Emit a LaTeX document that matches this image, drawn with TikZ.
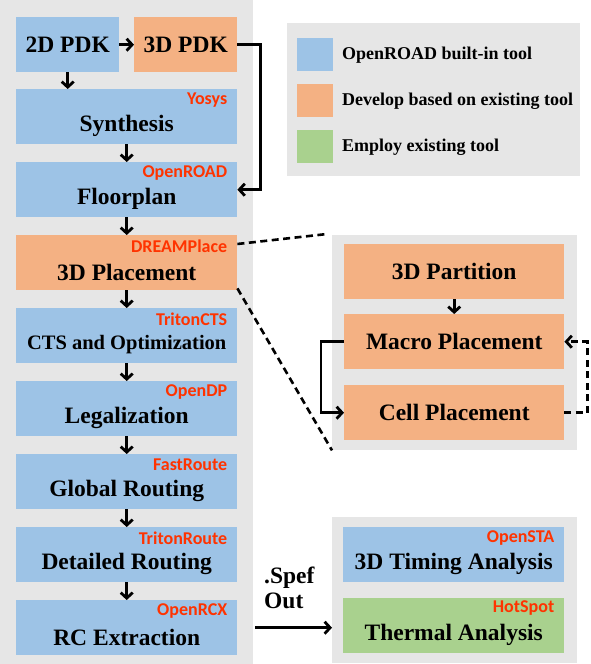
\documentclass[tikz,border=0pt]{standalone}
\usepackage{fontspec}
\setmainfont{Liberation Serif}
\newfontfamily\toolfont{Carlito}
\usetikzlibrary{arrows.meta,calc}
\definecolor{cblue}{HTML}{9DC3E6}
\definecolor{corange}{HTML}{F4B183}
\definecolor{cgreen}{HTML}{A9D18E}
\definecolor{cgray}{HTML}{E6E6E6}
\definecolor{cred}{HTML}{FF3300}
\tikzset{
  panel/.style={fill=cgray,draw=none,inner sep=0pt,anchor=north west},
  box/.style={draw=none,inner sep=0pt,anchor=north west,minimum width=221pt,minimum height=55pt},
  bluebox/.style={box,fill=cblue},
  orangebox/.style={box,fill=corange},
  greenbox/.style={box,fill=cgreen},
  lbl/.style={inner sep=0pt,font=\bfseries\fontsize{23.5}{25}\selectfont},
  tool/.style={inner sep=0pt,anchor=east,text=cred,font=\toolfont\bfseries\fontsize{18}{20}\selectfont},
  leg/.style={inner sep=0pt,anchor=west,font=\bfseries\fontsize{18}{20}\selectfont},
  arr/.style={line width=2.8pt,-{Straight Barb[length=5.5pt,width=12pt,line width=2.8pt]}},
  dline/.style={line width=2.6pt,dash pattern=on 7pt off 4.5pt},
}
\begin{document}
\begin{tikzpicture}[x=1pt,y=-1pt]
\useasboundingbox (0,0) rectangle (590,664);
% panels
\node[panel,minimum width=253pt,minimum height=664pt] (lp) at (0,0) {};
\node[panel,minimum width=293pt,minimum height=153pt] (lg) at (287,23) {};
\node[panel,minimum width=245pt,minimum height=215pt] (rp) at (332,235) {};
\node[panel,minimum width=245pt,minimum height=146pt] (ap) at (332,517) {};
% top PDKs
\node[bluebox,minimum width=103pt] (pdk2) at (16,17) {};
\node[lbl] (pdk2t) at (pdk2.center) {2D PDK};
\node[orangebox,minimum width=103pt] (pdk3) at (134,17) {};
\node[lbl] (pdk3t) at (pdk3.center) {3D PDK};
% main flow
\node[bluebox] (syn) at (16,89) {};
\node[bluebox] (flo) at (16,162) {};
\node[orangebox] (pla) at (16,235) {};
\node[bluebox] (cts) at (16,308) {};
\node[bluebox] (leg) at (16,381) {};
\node[bluebox] (gro) at (16,454) {};
\node[bluebox] (dro) at (16,527) {};
\node[bluebox] (rcx) at (16,600) {};
\foreach \n/\t/\m in {syn/Yosys/Synthesis,flo/OpenROAD/Floorplan,pla/DREAMPlace/3D Placement,leg/OpenDP/Legalization,gro/FastRoute/Global Routing,dro/TritonRoute/Detailed Routing,rcx/OpenRCX/RC Extraction}{
  \node[tool] (\n tool) at ($(\n.north east)+(-10,11)$) {\t};
  \node[lbl] (\n lbl) at ($(\n.north)+(0,37)$) {\m};
}
\node[tool] (ctstool) at ($(cts.north east)+(-10,11)$) {TritonCTS};
\node[lbl,font=\bfseries\fontsize{20.5}{22}\selectfont] (ctslbl) at ($(cts.north)+(0,37)$) {CTS and Optimization};
% arrows main
\draw[arr] (pdk2.east) -- (pdk3.west);
\draw[arr] (pdk2.south) -- (pdk2.south |- syn.north);
\draw[arr] (pdk3.east) -- ++(23,0) |- (flo.east);
\draw[arr] (syn.south) -- (flo.north);
\draw[arr] (flo.south) -- (pla.north);
\draw[arr] (pla.south) -- (cts.north);
\draw[arr] (cts.south) -- (leg.north);
\draw[arr] (leg.south) -- (gro.north);
\draw[arr] (gro.south) -- (dro.north);
\draw[arr] (dro.south) -- (rcx.north);
% legend
\node[fill=cblue,minimum width=36pt,minimum height=33pt,inner sep=0pt,anchor=north west] (sw1) at (297,38) {};
\node[fill=corange,minimum width=36pt,minimum height=33pt,inner sep=0pt,anchor=north west] (sw2) at (297,84) {};
\node[fill=cgreen,minimum width=36pt,minimum height=33pt,inner sep=0pt,anchor=north west] (sw3) at (297,130) {};
\node[leg] (lt1) at (342,55) {OpenROAD built-in tool};
\node[leg] (lt2) at (342,101) {Develop based on existing tool};
\node[leg] (lt3) at (342,147) {Employ existing tool};
% placement detail
\node[orangebox,minimum width=220pt] (par) at (344,244) {};
\node[lbl] (part) at (par.center) {3D Partition};
\node[orangebox,minimum width=220pt] (mac) at (344,314) {};
\node[lbl] (mact) at (mac.center) {Macro Placement};
\node[orangebox,minimum width=220pt] (cel) at (344,385) {};
\node[lbl] (celt) at (cel.center) {Cell Placement};
\draw[arr] (par.south) -- (mac.north);
\draw[arr] (mac.west) -- ++(-23,0) |- (cel.west);
\draw[arr,dline] (cel.east) -- ++(23,0) |- (mac.east);
% zoom lines
\coordinate (z1) at ($(pla.north east)+(0,9)$);
\coordinate (z2) at ($(rp.north west)+(-5,-1)$);
\coordinate (z3) at ($(pla.south east)+(0,-2)$);
\draw[dline] (z1) -- (z2);
\draw[dline] (z3) -- (rp.south west);
% analysis
\node[bluebox] (tim) at (343,527) {};
\node[greenbox] (the) at (343,598) {};
\node[tool] (timtool) at ($(tim.north east)+(-10,11)$) {OpenSTA};
\node[lbl] (timlbl) at ($(tim.north)+(0,37)$) {3D Timing Analysis};
\node[tool] (thetool) at ($(the.north east)+(-10,10)$) {HotSpot};
\node[lbl] (thelbl) at ($(the.north)+(0,37)$) {Thermal Analysis};
\coordinate (rcout) at ($(rcx.east)+(18,0)$);
\draw[arr] (rcout) -- (ap.west |- rcout);
\node[lbl,align=left,anchor=west,font=\bfseries\fontsize{23.5}{25}\selectfont] (spef) at (264,588) {.Spef\\Out};
\end{tikzpicture}
\end{document}
